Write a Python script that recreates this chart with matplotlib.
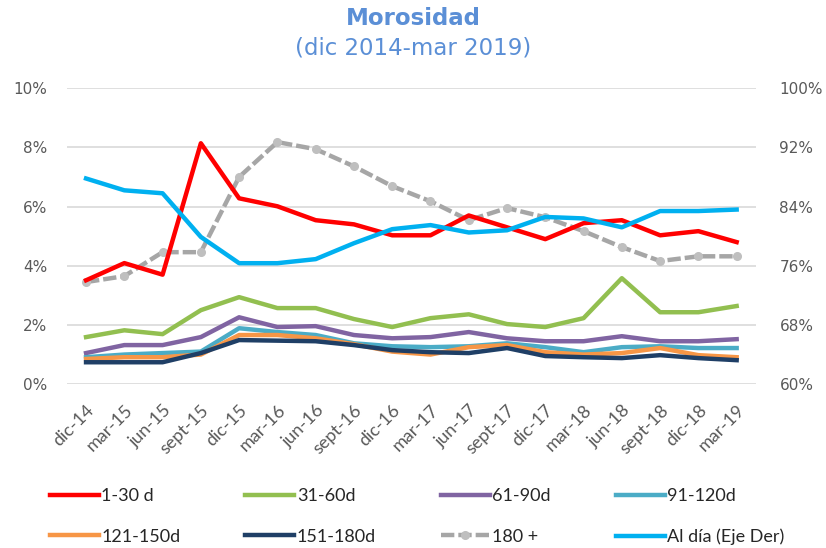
import matplotlib
matplotlib.use("Agg")
import matplotlib.pyplot as plt
from matplotlib.ticker import FuncFormatter

categories = ["dic-14", "mar-15", "jun-15", "sept-15", "dic-15", "mar-16", "jun-16", "sept-16",
              "dic-16", "mar-17", "jun-17", "sept-17", "dic-17", "mar-18", "jun-18", "sept-18",
              "dic-18", "mar-19"]

d1_30 = [3.51, 4.09, 3.70, 8.14, 6.28, 6.01, 5.54, 5.40, 5.03, 5.03, 5.70, 5.30, 4.90, 5.44, 5.54, 5.03, 5.17, 4.80]
d31_60 = [1.59, 1.82, 1.69, 2.50, 2.94, 2.57, 2.57, 2.20, 1.93, 2.23, 2.36, 2.03, 1.93, 2.23, 3.58, 2.43, 2.43, 2.64]
d61_90 = [1.05, 1.32, 1.32, 1.59, 2.26, 1.93, 1.96, 1.66, 1.55, 1.59, 1.76, 1.55, 1.45, 1.45, 1.62, 1.45, 1.45, 1.52]
d91_120 = [0.91, 1.00, 1.05, 1.10, 1.89, 1.76, 1.66, 1.38, 1.28, 1.25, 1.28, 1.38, 1.25, 1.08, 1.25, 1.28, 1.22, 1.22]
d121_150 = [0.85, 0.91, 0.91, 1.00, 1.66, 1.66, 1.55, 1.35, 1.10, 1.00, 1.25, 1.32, 1.08, 1.00, 1.05, 1.22, 0.98, 0.91]
d151_180 = [0.74, 0.74, 0.74, 1.05, 1.49, 1.47, 1.45, 1.32, 1.15, 1.08, 1.05, 1.22, 0.95, 0.91, 0.88, 0.98, 0.88, 0.81]
d180 = [3.45, 3.65, 4.46, 4.46, 7.00, 8.18, 7.94, 7.36, 6.69, 6.18, 5.54, 5.95, 5.64, 5.17, 4.63, 4.16, 4.32, 4.32]
al_dia = [87.8, 86.2, 85.8, 79.9, 76.35, 76.35, 76.9, 79.05, 80.95, 81.5, 80.5, 80.8, 82.6, 82.4, 81.2, 83.4, 83.4, 83.6]

left_ticks = [0, 2, 4, 6, 8, 10]
right_ticks = [60, 68, 76, 84, 92, 100]

plt.rcParams['font.family'] = ['DejaVu Sans']
narrow = ['Lato', 'DejaVu Sans']

fig = plt.figure(figsize=(8.26, 5.48), dpi=100)
ax = fig.add_axes([0.081, 0.299, 0.834, 0.540])
ax2 = ax.twinx()

x = list(range(len(categories)))
lw = 3.2
ax.plot(x, d1_30, color="#FF0000", lw=lw, label="1-30 d", zorder=5)
ax.plot(x, d31_60, color="#92BF50", lw=lw, label="31-60d", zorder=4)
ax.plot(x, d61_90, color="#8064A2", lw=lw, label="61-90d", zorder=4)
ax.plot(x, d91_120, color="#4BACC6", lw=lw, label="91-120d", zorder=4)
ax.plot(x, d121_150, color="#F79646", lw=lw, label="121-150d", zorder=4)
ax.plot(x, d151_180, color="#1F3F66", lw=lw, label="151-180d", zorder=4)
ax.plot(x, d180, color="#A6A6A6", lw=lw, ls=(0, (3, 0.9)), marker="o", ms=5.5,
        markeredgecolor="#BFBFBF", markerfacecolor="#BFBFBF", label="180 +", zorder=4)
l2, = ax2.plot(x, al_dia, color="#00B0F0", lw=lw, label="Al día (Eje Der)", zorder=4)

ax.set_ylim(0, 10)
ax2.set_ylim(60, 100)
ax.set_xlim(-0.5, len(categories) - 0.5)
ax.set_yticks(left_ticks)
ax2.set_yticks(right_ticks)
ax.yaxis.set_major_formatter(FuncFormatter(lambda v, p: f"{int(v)}%"))
ax2.yaxis.set_major_formatter(FuncFormatter(lambda v, p: f"{int(v)}%"))
ax.grid(axis="y", color="#D9D9D9", lw=1.2)
ax.set_axisbelow(True)
for a in (ax, ax2):
    for s in a.spines.values():
        s.set_visible(False)
    a.tick_params(length=0, labelsize=11, labelcolor="#595959")
ax.tick_params(axis="y", pad=14)
ax2.tick_params(axis="y", pad=17)
ax.set_xticks(x)
ax.set_xticklabels(categories, rotation=45, ha="right", rotation_mode="anchor",
                   fontsize=13, color="#595959", family=narrow)
ax.tick_params(axis="x", pad=13)

fig.text(0.5, 0.966, "Morosidad", ha="center", va="center", fontsize=16.5,
         fontweight="bold", color="#5B8FD6")
fig.text(0.5, 0.912, "(dic 2014-mar 2019)", ha="center", va="center", fontsize=16.5,
         color="#5B8FD6")

handles, labels = ax.get_legend_handles_labels()
handles.append(l2)
labels.append(l2.get_label())
order = [0, 4, 1, 5, 2, 6, 3, 7]
handles = [handles[i] for i in order]
labels = [labels[i] for i in order]
fig.legend(handles, labels, loc="lower left", bbox_to_anchor=(0.045, -0.018), ncol=4,
           frameon=False, prop={'family': narrow, 'size': 13}, handlelength=2.7,
           columnspacing=3.6, handletextpad=0.15, labelspacing=1.35, labelcolor="#262626",
           borderaxespad=0.3)

fig.savefig("out.png", dpi=100)
